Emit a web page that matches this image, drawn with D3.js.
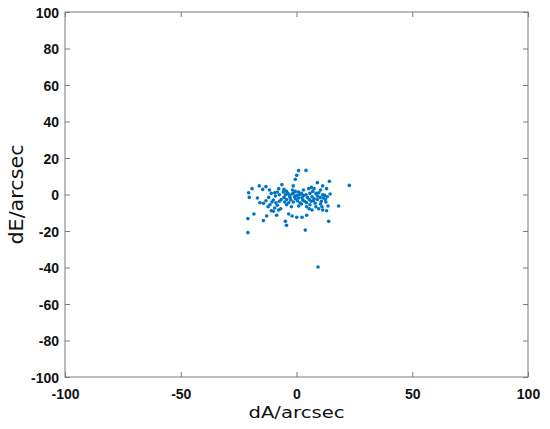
<!DOCTYPE html>
<html>
<head>
<meta charset="utf-8">
<script src="https://cdn.jsdelivr.net/npm/d3@7"></script>
<style>
  html, body { margin: 0; padding: 0; background: #fff; }
  svg { display: block; }
</style>
</head>
<body>
<svg id="chart" width="550" height="429"></svg>
<script>
// ---- data ----
const xTicks = [-100, -50, 0, 50, 100];
const yTicks = [-100, -80, -60, -40, -20, 0, 20, 40, 60, 80, 100];
const xLabel = "dA/arcsec";
const yLabel = "dE/arcsec";

const dA = [
  0.9, 4.1, 0.1, -0.5, 14.2, 9.0, -6.3, -16.1, -13.2, 22.8, -1.4, 6.4, 11.3,
  -19.2, -14.6, -11.7, -8.3, -9.4, -5.7, -4.3, -1.7, 3.0, 5.3, 7.6, 10.4, 13.0,
  7.0, 9.6, -20.7, -10.9, -7.4, -3.7, -1.9, 0.1, 1.2, 4.1, 5.8, 11.3, 14.5,
  -20.4, -16.9, -12.0, -9.1, -5.4, -2.8, -0.8, 2.4, 6.7, 9.0, 13.3,
  -15.8, -14.3, -13.2, -10.6, -8.9, -7.4, -4.3, -2.5, -1.4, 0.4, 1.5, 3.5,
  6.4, 9.0, 10.7, 11.6, 12.7, 18.2, 8.1, 10.4,
  -12.3, -9.4, -6.8, -4.3, -2.2, 0.9, 4.4, 5.5, 6.7, 8.4, 9.6, 11.3, 13.0,
  -10.0, -10.9, -7.7, 13.6, -18.4, -14.3, -12.9, -8.6, -3.4, -1.9, 0.1, 2.4,
  4.4, -4.8, -21.0, 13.9, -4.3, 3.8, -21.0, 9.3,
  -4.8, -3.1, -1.4, -0.5, 0.9, 2.1, 3.0, 4.7, 5.5, 7.6, 8.4, 10.2, 12.2,
  -6.6, -5.1, -3.4, -0.5, 0.9, 2.7, 4.4, 5.8, 7.3, 11.0, 12.5, -5.4, -7.7,
  -10.0, -11.5, -8.3, 2.1
];
const dE = [
  13.1, 13.2, 10.5, 8.3, 7.2, 6.5, 5.4, 4.7, 4.3, 5.0, 4.7, 3.9, 4.7,
  3.2, 2.8, 2.5, 1.4, 1.0, 1.4, 1.7, 2.5, 2.5, 3.2, 3.2, 2.5, 3.2,
  1.7, 1.0, 1.0, 0.6, -0.1, 0.6, 0.3, -0.5, -0.1, -0.1, 0.6, -0.1, 0.3,
  -1.6, -1.9, -1.6, -0.8, -1.6, -1.6, -1.2, -1.6, -1.2, -0.8, -1.2,
  -4.5, -4.8, -3.4, -4.1, -4.5, -3.7, -2.7, -3.0, -4.1, -3.4, -4.5, -3.7,
  -3.7, -2.7, -3.7, -1.9, -4.1, -6.3, -4.8, -5.2,
  -6.7, -7.4, -7.8, -5.6, -6.7, -6.3, -6.7, -7.8, -8.5, -6.7, -7.8, -8.5, -8.9,
  -9.2, -8.9, -8.5, -6.3, -10.7, -14.3, -11.8, -11.4, -10.7, -11.8, -12.5, -12.5,
  -11.4, -14.7, -13.2, -14.7, -16.9, -19.5, -20.9, -39.7,
  -0.1, -0.5, 0.6, 1.7, 1.4, 0.6, -0.5, -1.6, -2.7, -2.3, 0.6, -1.6, -0.5,
  -2.7, -4.1, -4.5, -2.3, -1.9, -3.0, -4.5, -5.6, -3.4, -6.7, -2.7, 2.8, 3.2,
  -3.0, -5.6, -5.9, -5.2
];

// ---- layout ----
const svg = d3.select("#chart");
const m = { left: 65, right: 528, top: 12, bottom: 377 };
const x = d3.scaleLinear().domain([-100, 100]).range([m.left, m.right]);
const y = d3.scaleLinear().domain([-100, 100]).range([m.bottom, m.top]);
const axisColor = "#7a7a7a";
const tickLen = 5;

// frame
svg.append("rect")
  .attr("x", m.left).attr("y", m.top)
  .attr("width", m.right - m.left).attr("height", m.bottom - m.top)
  .attr("fill", "none").attr("stroke", axisColor).attr("stroke-width", 1);

const tickFont = "bold 14px 'Liberation Sans', Arial, sans-serif";

// bottom axis
const gx = svg.append("g").attr("transform", `translate(0,${m.bottom})`)
  .call(d3.axisBottom(x).tickValues(xTicks).tickSize(-tickLen).tickPadding(9).tickFormat(d3.format("d")));
// top ticks
svg.append("g").attr("transform", `translate(0,${m.top})`)
  .call(d3.axisTop(x).tickValues(xTicks).tickSize(-tickLen).tickFormat(""));
// left axis
const gy = svg.append("g").attr("transform", `translate(${m.left},0)`)
  .call(d3.axisLeft(y).tickValues(yTicks).tickSize(-tickLen).tickPadding(6).tickFormat(d3.format("d")));
// right ticks
svg.append("g").attr("transform", `translate(${m.right},0)`)
  .call(d3.axisRight(y).tickValues(yTicks).tickSize(-tickLen).tickFormat(""));

svg.selectAll(".domain").remove();
svg.selectAll(".tick line").attr("stroke", axisColor);
svg.selectAll(".tick text")
  .style("font", tickFont).attr("fill", "#111")
  .text(function() { return this.textContent.replace("\u2212", "-"); });
gx.selectAll(".tick text").attr("dy", "0.9em");
gy.selectAll(".tick text").attr("dy", "0.36em");

// axis labels
svg.append("text")
  .attr("x", (m.left + m.right) / 2).attr("y", 418)
  .attr("text-anchor", "middle")
  .attr("textLength", 96).attr("lengthAdjust", "spacingAndGlyphs")
  .style("font", "15.5px 'DejaVu Sans', sans-serif").attr("fill", "#111")
  .text(xLabel);

svg.append("text")
  .attr("transform", `translate(23,${(m.top + m.bottom) / 2}) rotate(-90)`)
  .attr("text-anchor", "middle")
  .attr("textLength", 100).attr("lengthAdjust", "spacingAndGlyphs")
  .style("font", "19px 'DejaVu Sans', sans-serif").attr("fill", "#111")
  .text(yLabel);

// points
svg.append("g").selectAll("circle")
  .data(dA.map((a, i) => ({ a, e: dE[i] })))
  .join("circle")
  .attr("cx", d => x(d.a)).attr("cy", d => y(d.e))
  .attr("r", 1.8)
  .attr("fill", "#0074C4");
</script>
</body>
</html>
